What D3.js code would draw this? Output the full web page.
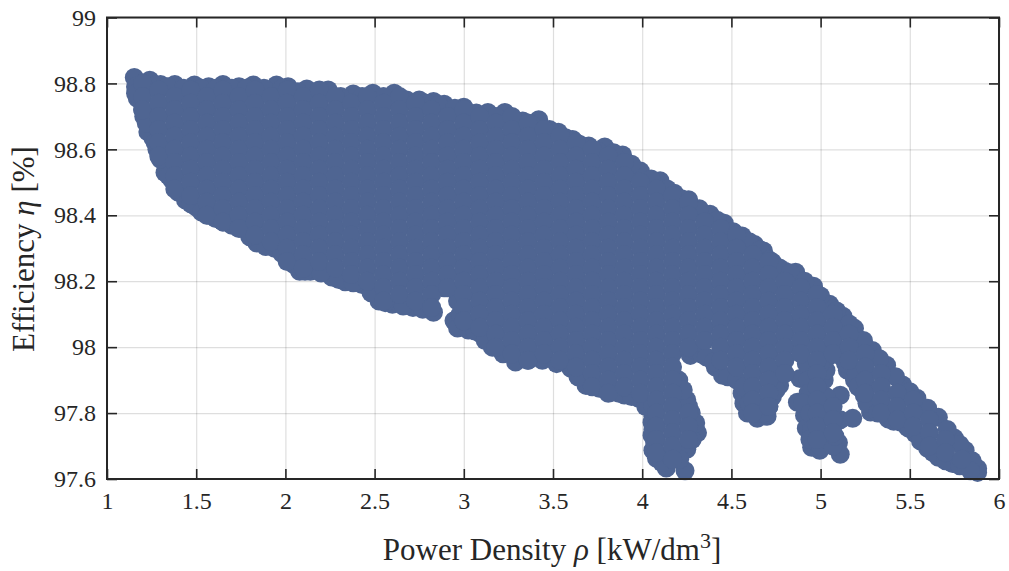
<!DOCTYPE html>
<html lang="en">
<head>
  <meta charset="UTF-8" />
  <title>Efficiency vs Power Density</title>
  <script src="https://d3js.org/d3.v7.min.js"></script>
  <style>
    body { margin: 0; background: #fff; }
    svg { display: block; font-family: "Liberation Serif", serif; }
    text { fill: #262626; }
    .tick text { font-size: 24px; font-family: "Liberation Serif", serif; }
    .grid line { stroke: #000; stroke-opacity: 0.13; stroke-width: 1.2; }
    .grid path, .frame path { display: none; }
    .frame line { stroke: #262626; stroke-width: 1.6; }
  </style>
</head>
<body>
  <div id="chart"></div>
  <script>
    const xTicks = [1, 1.5, 2, 2.5, 3, 3.5, 4, 4.5, 5, 5.5, 6];
    const yTicks = [97.6, 97.8, 98, 98.2, 98.4, 98.6, 98.8, 99];

    // upper edge of the cloud
    const topRho = [1.153, 1.24, 1.30, 1.38, 1.49, 1.57, 1.65, 1.74, 1.82, 1.95, 2.015, 2.12, 2.24, 2.38, 2.49, 2.61, 2.75, 2.83, 2.89, 3.0, 3.135, 3.23, 3.33, 3.42, 3.53, 3.61, 3.70, 3.79, 3.89, 3.99, 4.10, 4.18, 4.26, 4.38, 4.46, 4.56, 4.63, 4.68, 4.73, 4.80, 4.86, 4.96, 5.05, 5.125, 5.19, 5.29, 5.37, 5.46, 5.54, 5.66, 5.75, 5.81, 5.88, 5.88];
    const topEta = [98.818, 98.81, 98.797, 98.797, 98.795, 98.79, 98.797, 98.79, 98.795, 98.795, 98.79, 98.783, 98.78, 98.768, 98.77, 98.77, 98.75, 98.745, 98.737, 98.728, 98.712, 98.712, 98.686, 98.69, 98.652, 98.63, 98.61, 98.607, 98.583, 98.534, 98.505, 98.467, 98.447, 98.403, 98.376, 98.337, 98.311, 98.292, 98.258, 98.23, 98.227, 98.185, 98.13, 98.094, 98.057, 97.99, 97.945, 97.885, 97.845, 97.787, 97.724, 97.687, 97.632, 97.62];

    // points between those, closing the gaps along the upper edge
    const topFillRho = [1.20, 1.27, 1.34, 1.43, 1.53, 1.61, 1.70, 1.78, 1.88, 1.98, 2.07, 2.18, 2.31, 2.43, 2.55, 2.68, 2.79, 2.86, 2.95, 3.07, 3.18, 3.28, 3.38, 3.48, 3.57, 3.65, 3.75, 3.84, 3.94, 4.05, 4.14, 4.22, 4.32, 4.42, 4.51, 4.60, 4.66, 4.71, 4.77, 4.83, 4.91, 5.00, 5.09, 5.16, 5.24, 5.33, 5.42, 5.50, 5.60, 5.71, 5.78, 5.85];
    const topFillEta = [98.80, 98.795, 98.79, 98.785, 98.785, 98.785, 98.785, 98.785, 98.785, 98.785, 98.775, 98.77, 98.76, 98.76, 98.76, 98.75, 98.74, 98.735, 98.725, 98.71, 98.70, 98.69, 98.675, 98.66, 98.635, 98.615, 98.595, 98.59, 98.555, 98.51, 98.48, 98.45, 98.42, 98.385, 98.35, 98.32, 98.295, 98.265, 98.24, 98.225, 98.20, 98.155, 98.11, 98.07, 98.02, 97.965, 97.91, 97.865, 97.815, 97.75, 97.705, 97.655];

    // lower edge, left to right, including the legs
    const lowRho = [1.16, 1.17, 1.206, 1.229, 1.258, 1.28, 1.325, 1.365, 1.44, 1.50, 1.57, 1.65, 1.76, 1.84, 1.94, 2.02, 2.08, 2.14, 2.26, 2.335, 2.43, 2.525, 2.6, 2.715, 2.83, 2.945, 2.965, 3.025, 3.09, 3.16, 3.29, 3.44, 3.60, 3.685, 3.83, 3.90, 3.98, 4.06, 4.055, 4.055, 4.06, 4.08, 4.135, 4.24, 4.25, 4.31, 4.275, 4.25, 4.205, 4.41, 4.45, 4.56, 4.57, 4.59, 4.645, 4.70, 4.71, 4.77, 4.87, 4.885, 4.91, 4.92, 4.92, 4.95, 4.995, 5.04, 5.04, 5.10, 5.11, 5.11, 5.11, 5.18, 5.15, 5.19, 5.245, 5.28, 5.38, 5.45, 5.53, 5.60, 5.66, 5.74];
    const lowEta = [98.79, 98.755, 98.70, 98.653, 98.634, 98.60, 98.53, 98.507, 98.446, 98.425, 98.40, 98.38, 98.36, 98.316, 98.30, 98.27, 98.23, 98.23, 98.213, 98.198, 98.19, 98.14, 98.13, 98.12, 98.106, 98.08, 98.058, 98.052, 98.042, 98.0, 97.955, 97.96, 97.936, 97.884, 97.863, 97.855, 97.845, 97.79, 97.772, 97.733, 97.687, 97.663, 97.633, 97.625, 97.69, 97.74, 97.80, 97.84, 97.90, 97.94, 97.915, 97.86, 97.83, 97.80, 97.784, 97.79, 97.82, 97.884, 97.833, 97.905, 97.793, 97.754, 97.95, 97.696, 97.687, 97.97, 97.727, 97.71, 97.854, 97.78, 97.675, 97.784, 97.93, 97.90, 97.854, 97.803, 97.782, 97.772, 97.738, 97.693, 97.666, 97.647];

    // same again for the lower edge and the legs
    const lowFillRho = [1.16, 1.20, 1.22, 1.27, 1.30, 1.345, 1.40, 1.47, 1.53, 1.61, 1.70, 1.80, 1.89, 1.98, 2.05, 2.11, 2.20, 2.30, 2.38, 2.48, 2.56, 2.66, 2.77, 2.89, 2.965, 2.98, 3.00, 3.06, 3.12, 3.22, 3.36, 3.52, 3.64, 3.76, 3.87, 3.94, 4.02, 4.06, 4.06, 4.07, 4.11, 4.16, 4.21, 4.28, 4.30, 4.26, 4.23, 4.27, 4.30, 4.33, 4.36, 4.40, 4.48, 4.53, 4.57, 4.60, 4.65, 4.68, 4.73, 4.75, 4.78, 4.93, 4.93, 4.90, 4.94, 4.95, 4.94, 5.00, 5.03, 5.07, 5.08, 5.04, 5.03, 5.02, 5.03, 5.00, 5.06, 5.12, 5.14, 5.20, 5.21, 5.26, 5.32, 5.41, 5.49, 5.56, 5.63, 5.70, 5.78, 5.84];
    const lowFillEta = [98.77, 98.72, 98.68, 98.62, 98.57, 98.52, 98.47, 98.435, 98.41, 98.39, 98.37, 98.335, 98.305, 98.285, 98.25, 98.23, 98.225, 98.205, 98.195, 98.165, 98.135, 98.125, 98.115, 98.18, 98.14, 98.10, 98.08, 98.05, 98.02, 97.98, 97.96, 97.95, 97.91, 97.875, 97.86, 97.85, 97.82, 97.82, 97.75, 97.71, 97.65, 97.67, 97.66, 97.72, 97.77, 97.82, 97.87, 97.975, 97.99, 97.98, 97.97, 97.955, 97.91, 97.90, 97.88, 97.83, 97.80, 97.80, 97.85, 97.87, 97.92, 97.90, 97.86, 97.83, 97.80, 97.75, 97.72, 97.70, 97.72, 97.70, 97.73, 97.80, 97.85, 97.90, 97.93, 97.95, 97.99, 97.97, 97.95, 97.92, 97.88, 97.83, 97.80, 97.775, 97.755, 97.715, 97.68, 97.655, 97.64, 97.625];

    // body of the cloud, one list per power density
    const bodyRho = [1.20, 1.29, 1.38, 1.47, 1.56, 1.65, 1.74, 1.83, 1.92, 2.01, 2.10, 2.19, 2.28, 2.37, 2.46, 2.55, 2.64, 2.73, 2.82, 2.91, 3.00, 3.09, 3.18, 3.27, 3.36, 3.45, 3.54, 3.63, 3.72, 3.81, 3.90, 3.99, 4.08, 4.17, 4.26, 4.35, 4.44, 4.53, 4.62, 4.71, 4.80, 4.89, 4.98, 5.07, 5.16, 5.25, 5.34, 5.43, 5.52, 5.61, 5.70, 5.79];
    const bodyEta = [
      [98.80, 98.76, 98.72],
      [98.78, 98.74, 98.70, 98.66, 98.62, 98.58],
      [98.76, 98.72, 98.68, 98.64, 98.60, 98.56, 98.52, 98.48],
      [98.78, 98.74, 98.70, 98.66, 98.62, 98.58, 98.54, 98.50, 98.46],
      [98.76, 98.72, 98.68, 98.64, 98.60, 98.56, 98.52, 98.48, 98.44, 98.40],
      [98.78, 98.74, 98.70, 98.66, 98.62, 98.58, 98.54, 98.50, 98.46, 98.42, 98.38],
      [98.76, 98.72, 98.68, 98.64, 98.60, 98.56, 98.52, 98.48, 98.44, 98.40, 98.36],
      [98.78, 98.74, 98.70, 98.66, 98.62, 98.58, 98.54, 98.50, 98.46, 98.42, 98.38, 98.34],
      [98.76, 98.72, 98.68, 98.64, 98.60, 98.56, 98.52, 98.48, 98.44, 98.40, 98.36, 98.32],
      [98.78, 98.74, 98.70, 98.66, 98.62, 98.58, 98.54, 98.50, 98.46, 98.42, 98.38, 98.34, 98.30, 98.26],
      [98.76, 98.72, 98.68, 98.64, 98.60, 98.56, 98.52, 98.48, 98.44, 98.40, 98.36, 98.32, 98.28, 98.24],
      [98.78, 98.74, 98.70, 98.66, 98.62, 98.58, 98.54, 98.50, 98.46, 98.42, 98.38, 98.34, 98.30, 98.26],
      [98.76, 98.72, 98.68, 98.64, 98.60, 98.56, 98.52, 98.48, 98.44, 98.40, 98.36, 98.32, 98.28, 98.24],
      [98.74, 98.70, 98.66, 98.62, 98.58, 98.54, 98.50, 98.46, 98.42, 98.38, 98.34, 98.30, 98.26, 98.22],
      [98.76, 98.72, 98.68, 98.64, 98.60, 98.56, 98.52, 98.48, 98.44, 98.40, 98.36, 98.32, 98.28, 98.24, 98.20],
      [98.74, 98.70, 98.66, 98.62, 98.58, 98.54, 98.50, 98.46, 98.42, 98.38, 98.34, 98.30, 98.26, 98.22, 98.18, 98.14],
      [98.76, 98.72, 98.68, 98.64, 98.60, 98.56, 98.52, 98.48, 98.44, 98.40, 98.36, 98.32, 98.28, 98.24, 98.20, 98.16],
      [98.74, 98.70, 98.66, 98.62, 98.58, 98.54, 98.50, 98.46, 98.42, 98.38, 98.34, 98.30, 98.26, 98.22, 98.18, 98.14],
      [98.72, 98.68, 98.64, 98.60, 98.56, 98.52, 98.48, 98.44, 98.40, 98.36, 98.32, 98.28, 98.24, 98.20, 98.16, 98.12],
      [98.70, 98.66, 98.62, 98.58, 98.54, 98.50, 98.46, 98.42, 98.38, 98.34, 98.30, 98.26, 98.22, 98.18],
      [98.72, 98.68, 98.64, 98.60, 98.56, 98.52, 98.48, 98.44, 98.40, 98.36, 98.32, 98.28, 98.24, 98.20, 98.16, 98.12, 98.08],
      [98.70, 98.66, 98.62, 98.58, 98.54, 98.50, 98.46, 98.42, 98.38, 98.34, 98.30, 98.26, 98.22, 98.18, 98.14, 98.10, 98.06],
      [98.68, 98.64, 98.60, 98.56, 98.52, 98.48, 98.44, 98.40, 98.36, 98.32, 98.28, 98.24, 98.20, 98.16, 98.12, 98.08, 98.04, 98.00],
      [98.70, 98.66, 98.62, 98.58, 98.54, 98.50, 98.46, 98.42, 98.38, 98.34, 98.30, 98.26, 98.22, 98.18, 98.14, 98.10, 98.06, 98.02, 97.98],
      [98.68, 98.64, 98.60, 98.56, 98.52, 98.48, 98.44, 98.40, 98.36, 98.32, 98.28, 98.24, 98.20, 98.16, 98.12, 98.08, 98.04, 98.00, 97.96],
      [98.66, 98.62, 98.58, 98.54, 98.50, 98.46, 98.42, 98.38, 98.34, 98.30, 98.26, 98.22, 98.18, 98.14, 98.10, 98.06, 98.02, 97.98],
      [98.64, 98.60, 98.56, 98.52, 98.48, 98.44, 98.40, 98.36, 98.32, 98.28, 98.24, 98.20, 98.16, 98.12, 98.08, 98.04, 98.00, 97.96],
      [98.62, 98.58, 98.54, 98.50, 98.46, 98.42, 98.38, 98.34, 98.30, 98.26, 98.22, 98.18, 98.14, 98.10, 98.06, 98.02, 97.98, 97.94],
      [98.60, 98.56, 98.52, 98.48, 98.44, 98.40, 98.36, 98.32, 98.28, 98.24, 98.20, 98.16, 98.12, 98.08, 98.04, 98.00, 97.96, 97.92, 97.88],
      [98.58, 98.54, 98.50, 98.46, 98.42, 98.38, 98.34, 98.30, 98.26, 98.22, 98.18, 98.14, 98.10, 98.06, 98.02, 97.98, 97.94, 97.90, 97.86],
      [98.56, 98.52, 98.48, 98.44, 98.40, 98.36, 98.32, 98.28, 98.24, 98.20, 98.16, 98.12, 98.08, 98.04, 98.00, 97.96, 97.92, 97.88],
      [98.50, 98.46, 98.42, 98.38, 98.34, 98.30, 98.26, 98.22, 98.18, 98.14, 98.10, 98.06, 98.02, 97.98, 97.94, 97.90, 97.86],
      [98.48, 98.44, 98.40, 98.36, 98.32, 98.28, 98.24, 98.20, 98.16, 98.12, 98.08, 98.04, 98.00, 97.96, 97.92, 97.88, 97.84, 97.80, 97.76, 97.72, 97.68],
      [98.46, 98.42, 98.38, 98.34, 98.30, 98.26, 98.22, 98.18, 98.14, 98.10, 98.06, 98.02, 97.98, 97.94, 97.90, 97.86, 97.82, 97.78, 97.74, 97.70, 97.66],
      [98.44, 98.40, 98.36, 98.32, 98.28, 98.24, 98.20, 98.16, 98.12, 98.08, 98.04, 98.00, 97.80, 97.76, 97.72],
      [98.38, 98.34, 98.30, 98.26, 98.22, 98.18, 98.14, 98.10, 98.06, 98.02],
      [98.36, 98.32, 98.28, 98.24, 98.20, 98.16, 98.12, 98.08, 98.04, 98.00, 97.96],
      [98.34, 98.30, 98.26, 98.22, 98.18, 98.14, 98.10, 98.06, 98.02, 97.98, 97.94],
      [98.28, 98.24, 98.20, 98.16, 98.12, 98.08, 98.04, 98.00, 97.96, 97.92, 97.88, 97.84, 97.80],
      [98.26, 98.22, 98.18, 98.14, 98.10, 98.06, 98.02, 97.98, 97.94, 97.90, 97.86, 97.82],
      [98.20, 98.16, 98.12, 98.08, 98.04, 98.00, 97.96, 97.92],
      [98.18, 98.14, 98.10, 98.06, 98.02, 97.98],
      [98.16, 98.12, 98.08, 98.04, 98.00, 97.96, 97.92, 97.88, 97.84, 97.80, 97.76, 97.72],
      [98.10, 98.06, 98.02, 97.98, 97.82, 97.78, 97.74],
      [98.04, 98.00, 97.96],
      [97.98, 97.94, 97.90, 97.86],
      [97.92, 97.88, 97.84, 97.80],
      [97.86, 97.82, 97.78],
      [97.84, 97.80, 97.76],
      [97.78, 97.74, 97.70],
      [97.72, 97.68],
      [97.66]
    ];

    const width = 1009, height = 571;
    const margin = {top: 17.5, right: 10, bottom: 92, left: 107};
    const innerWidth = width - margin.left - margin.right;
    const innerHeight = height - margin.top - margin.bottom;

    const svg = d3.select("#chart").append("svg")
      .attr("width", width)
      .attr("height", height);
    const chartArea = svg.append("g").attr("transform", `translate(${margin.left},${margin.top})`);

    const x = d3.scaleLinear().domain([1, 6]).range([0, innerWidth]);
    const y = d3.scaleLinear().domain([97.6, 99]).range([innerHeight, 0]);

    // grid first, the points sit on top
    chartArea.append("g").attr("class", "grid")
      .attr("transform", `translate(0,${innerHeight})`)
      .call(d3.axisBottom(x).tickValues(xTicks).tickSize(-innerHeight))
      .selectAll("text").remove();
    chartArea.append("g").attr("class", "grid")
      .call(d3.axisLeft(y).tickValues(yTicks).tickSize(-innerWidth))
      .selectAll("text").remove();

    const points = [];
    const addPoints = (rho, eta) => rho.forEach((r, i) => points.push([r, eta[i]]));
    addPoints(topRho, topEta);
    addPoints(topFillRho, topFillEta);
    addPoints(lowRho, lowEta);
    addPoints(lowFillRho, lowFillEta);
    bodyRho.forEach((r, i) => bodyEta[i].forEach(e => points.push([r, e])));

    chartArea.selectAll("circle")
      .data(points)
      .enter()
      .append("circle")
      .attr("cx", d => x(d[0]))
      .attr("cy", d => y(d[1]))
      .attr("r", 9.5)
      .attr("fill", "#4f6592");

    // box with inward ticks on all four sides
    chartArea.append("g").attr("class", "frame")
      .attr("transform", `translate(0,${innerHeight})`)
      .call(d3.axisBottom(x).tickValues(xTicks).tickSize(-10).tickPadding(13).tickFormat(d => d));
    chartArea.append("g").attr("class", "frame")
      .call(d3.axisLeft(y).tickValues(yTicks).tickSize(-10).tickPadding(11).tickFormat(d => d));
    chartArea.append("g").attr("class", "frame")
      .call(d3.axisTop(x).tickValues(xTicks).tickSize(-10))
      .selectAll("text").remove();
    chartArea.append("g").attr("class", "frame")
      .attr("transform", `translate(${innerWidth},0)`)
      .call(d3.axisRight(y).tickValues(yTicks).tickSize(-10))
      .selectAll("text").remove();

    chartArea.append("rect")
      .attr("width", innerWidth)
      .attr("height", innerHeight)
      .attr("fill", "none")
      .attr("stroke", "#262626")
      .attr("stroke-width", 2);

    const xLabel = svg.append("text")
      .attr("x", 552)
      .attr("y", 560)
      .attr("text-anchor", "middle")
      .style("font-size", "31px");
    xLabel.append("tspan").text("Power Density ");
    xLabel.append("tspan").style("font-style", "italic").text("ρ");
    xLabel.append("tspan").text(" [kW/dm");
    xLabel.append("tspan").attr("dy", -12).style("font-size", "22px").text("3");
    xLabel.append("tspan").attr("dy", 12).text("]");

    const yLabel = svg.append("text")
      .attr("transform", "translate(34,249) rotate(-90)")
      .attr("text-anchor", "middle")
      .style("font-size", "31px");
    yLabel.append("tspan").text("Efficiency ");
    yLabel.append("tspan").style("font-style", "italic").text("η");
    yLabel.append("tspan").text(" [%]");
  </script>
</body>
</html>
